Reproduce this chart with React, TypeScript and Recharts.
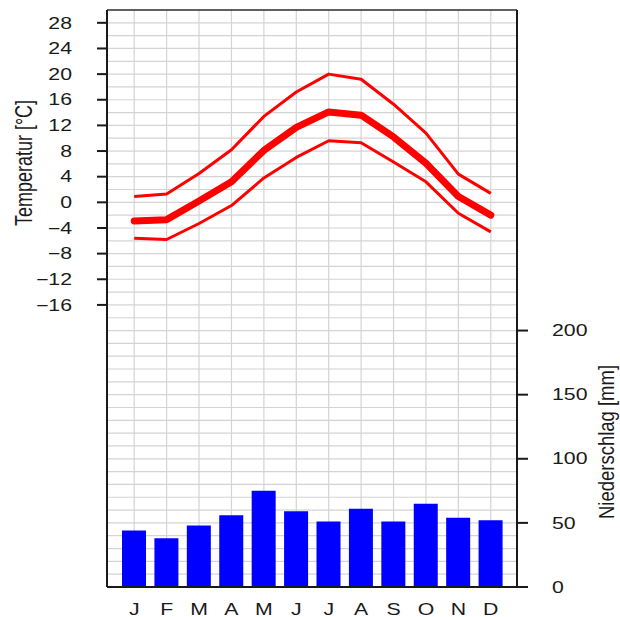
import React from 'react';
import { ComposedChart, Bar, Line, XAxis, YAxis, CartesianGrid } from 'recharts';

const months = ['Jan', 'Feb', 'Mar', 'Apr', 'May', 'Jun', 'Jul', 'Aug', 'Sep', 'Oct', 'Nov', 'Dec'];
const monthLabels = ['J', 'F', 'M', 'A', 'M', 'J', 'J', 'A', 'S', 'O', 'N', 'D'];
const tempMean = [-2.9, -2.7, 0.2, 3.2, 8.1, 11.7, 14.1, 13.6, 10.2, 6.1, 0.9, -2.0];
const tempMax = [0.9, 1.3, 4.5, 8.2, 13.4, 17.2, 20.0, 19.2, 15.3, 10.8, 4.4, 1.4];
const tempMin = [-5.6, -5.8, -3.3, -0.5, 3.8, 7.0, 9.6, 9.3, 6.3, 3.2, -1.7, -4.6];
const precip = [44, 38, 48, 56, 75, 59, 51, 61, 51, 65, 54, 52];

const tempTicks = [28, 24, 20, 16, 12, 8, 4, 0, -4, -8, -12, -16];
const precipTicks = [0, 50, 100, 150, 200];
const tempDomain = [-60, 30];
const precipDomain = [0, 450];
const tempGridStep = 2;

const tempGrid: number[] = [];
for (let v = tempDomain[0]; v <= tempDomain[1]; v += tempGridStep) tempGrid.push(v);

const data = months.map((m, i) => ({
  m,
  mean: tempMean[i],
  max: tempMax[i],
  min: tempMin[i],
  p: precip[i],
}));

const FONT = "'Liberation Sans', Arial, Helvetica, sans-serif";
const INK = '#1a1a1a';

const ScaledTick = (props: any) => {
  const { x, y, payload, anchor, dy, kind } = props;
  let label: string = String(payload.value);
  if (kind === 'month') label = monthLabels[months.indexOf(payload.value)];
  label = label.replace('-', '\u2212');
  return (
    <g transform={`translate(${x},${y}) scale(1.33,1)`}>
      <text x={0} y={0} dy={dy} textAnchor={anchor} fontFamily={FONT} fontSize={16} fill={INK}>
        {label}
      </text>
    </g>
  );
};

export default function App() {
  return (
    <div style={{ position: 'absolute', left: 0, top: 0, width: 620, height: 617, background: '#fff' }}>
      <ComposedChart
        width={620}
        height={617}
        data={data}
        margin={{ top: 9, right: 43, bottom: 0, left: 47 }}
      >
        <CartesianGrid
          xAxisId="x"
          yAxisId="t"
          stroke="#d4d4d4"
          strokeWidth={1.2}
          horizontalValues={tempGrid}
        />
        <XAxis
          xAxisId="x"
          dataKey="m"
          type="category"
          padding={{ left: 11, right: 10 }}
          height={30}
          tickLine={false}
          tickSize={0}
          tickMargin={16}
          axisLine={{ stroke: INK, strokeWidth: 2 }}
          interval={0}
          tick={<ScaledTick anchor="middle" dy={11.5} kind="month" />}
        />
        <XAxis
          xAxisId="top"
          dataKey="m"
          orientation="top"
          height={1}
          tick={false}
          tickLine={false}
          axisLine={{ stroke: '#333', strokeWidth: 1.6 }}
        />
        <YAxis
          yAxisId="t"
          orientation="left"
          width={60}
          type="number"
          domain={tempDomain}
          ticks={tempTicks}
          interval={0}
          allowDataOverflow
          tickSize={10}
          tickMargin={25}
          tickLine={{ stroke: INK, strokeWidth: 2 }}
          axisLine={{ stroke: INK, strokeWidth: 2 }}
          tick={<ScaledTick anchor="end" dy={5.7} />}
        />
        <YAxis
          yAxisId="p"
          orientation="right"
          width={60}
          type="number"
          domain={precipDomain}
          ticks={precipTicks}
          interval={0}
          allowDataOverflow
          tickSize={11}
          tickMargin={24}
          tickLine={{ stroke: INK, strokeWidth: 2 }}
          axisLine={{ stroke: INK, strokeWidth: 2 }}
          tick={<ScaledTick anchor="start" dy={5.7} />}
        />
        <Bar xAxisId="x" yAxisId="p" dataKey="p" fill="#0000ff" barSize={24} isAnimationActive={false} />
        <Line
          xAxisId="x"
          yAxisId="t"
          dataKey="max"
          stroke="#ff0000"
          strokeWidth={3}
          dot={false}
          activeDot={false}
          strokeLinejoin="round"
          isAnimationActive={false}
        />
        <Line
          xAxisId="x"
          yAxisId="t"
          dataKey="min"
          stroke="#ff0000"
          strokeWidth={3}
          dot={false}
          activeDot={false}
          strokeLinejoin="round"
          isAnimationActive={false}
        />
        <Line
          xAxisId="x"
          yAxisId="t"
          dataKey="mean"
          stroke="#ff0000"
          strokeWidth={7}
          dot={false}
          activeDot={false}
          strokeLinejoin="round"
          strokeLinecap="round"
          isAnimationActive={false}
        />
        <text
          transform="translate(24,163) scale(1.3,1) rotate(-90)"
          textAnchor="middle"
          dominantBaseline="central"
          fontFamily={FONT}
          fontSize={18}
          fill={INK}
        >
          Temperatur [°C]
        </text>
        <text
          transform="translate(606,442) scale(1.2,1) rotate(-90)"
          textAnchor="middle"
          dominantBaseline="central"
          fontFamily={FONT}
          fontSize={18.5}
          fill={INK}
        >
          Niederschlag [mm]
        </text>
      </ComposedChart>
    </div>
  );
}
